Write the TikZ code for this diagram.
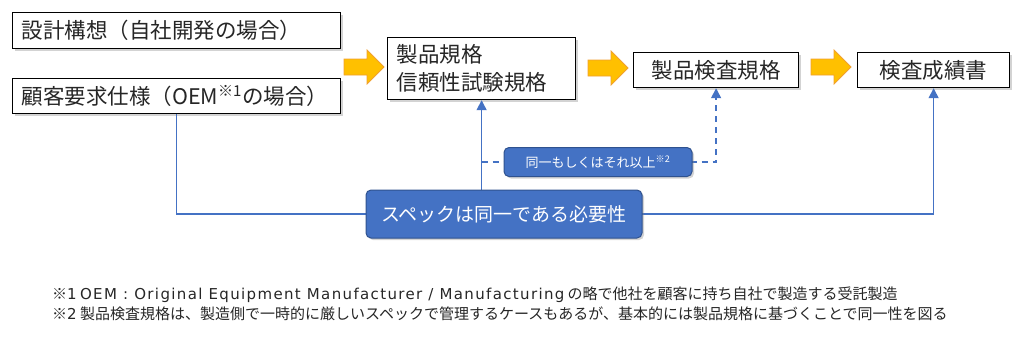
\documentclass[tikz,border=0pt]{standalone}
\usepackage{fontspec}
\setmainfont{Noto Sans CJK JP}
\newfontfamily\latinfont{DejaVu Sans}
\newfontfamily\latinwide[LetterSpace=9]{DejaVu Sans}
\usetikzlibrary{arrows.meta,shadows}
\definecolor{accblue}{HTML}{4472C4}
\definecolor{accedge}{HTML}{2F528F}
\definecolor{accgold}{HTML}{FFC000}
\definecolor{accorange}{HTML}{F0A030}
\newcommand{\blockarrow}[2]{%
  \draw[accorange,fill=accgold,line width=0.8pt]
    (#1,#2-8) -- (#1+23,#2-8) -- (#1+23,#2-17) -- (#1+40,#2) --
    (#1+23,#2+17) -- (#1+23,#2+8) -- (#1,#2+8) -- cycle;}
\begin{document}
\begin{tikzpicture}[x=1pt,y=-1pt,
  box/.style={draw=black,line width=1.2pt,fill=white,text=black!85,
    font=\fontsize{21.5}{28}\selectfont,inner sep=0pt,
    drop shadow={shadow xshift=2pt,shadow yshift=-2pt,opacity=.35}},
  tag/.style={draw=accedge,line width=1pt,fill=accblue,text=white,rounded corners=5pt,
    inner sep=0pt,drop shadow={shadow xshift=2pt,shadow yshift=-2pt,opacity=.35}},
  note/.style={anchor=west,inner sep=0pt,text=black!85,font=\fontsize{15}{17}\selectfont},
  conn/.style={accblue,line width=1.5pt,-{Triangle[width=10pt,length=10pt]}},
  dconn/.style={conn,dash pattern=on 6pt off 5pt}]
  \useasboundingbox (0,0) rectangle (1024,341);
  % input boxes
  \node[box,anchor=north west,text width=328,minimum height=36,align=left]
    (design) at (12,12) {\hspace*{9pt}設計構想（自社開発の場合）};
  \node[box,anchor=north west,text width=328,minimum height=35,align=left]
    (customer) at (12,78) {\hspace*{9pt}顧客要求仕様（OEM\textsuperscript{※1}の場合）};
  \node[box,anchor=north west,text width=188,minimum height=62,align=left]
    (spec) at (387,37) {\hspace*{9pt}製品規格\\\hspace*{9pt}信頼性試験規格};
  \node[box,anchor=north west,minimum width=165,minimum height=35]
    (inspect) at (633,52) {製品検査規格};
  \node[box,anchor=north west,minimum width=152,minimum height=35]
    (report) at (857,52) {検査成績書};
  % flow arrows
  \blockarrow{344}{67}
  \blockarrow{588}{68}
  \blockarrow{811}{67}
  % connectors
  \coordinate (need) at (504,214);
  \coordinate (same) at (598,162);
  \draw[conn] (customer.south) |- (report.south |- need) -- (report.south);
  \draw[conn] (spec.south |- need) -- (spec.south);
  \draw[dconn] (spec.south |- same) -| (inspect.south);
  \node[tag,minimum width=188,minimum height=29,font=\fontsize{13}{15}\selectfont]
    (sametag) at (same) {同一もしくはそれ以上\textsuperscript{※2}};
  \node[tag,minimum width=276,minimum height=48,font=\fontsize{19}{22}\selectfont]
    (needtag) at (need) {スペックは同一である必要性};
  % notes
  \node[note] (note1) at (52,295)
    {※{\latinfont 1} {\latinwide OEM : Original Equipment Manufacturer / Manufacturing} の略で他社を顧客に持ち自社で製造する受託製造};
  \node[note] (note2) at (52,314)
    {※{\latinfont 2} 製品検査規格は、製造側で一時的に厳しいスペックで管理するケースもあるが、基本的には製品規格に基づくことで同一性を図る};
\end{tikzpicture}
\end{document}
